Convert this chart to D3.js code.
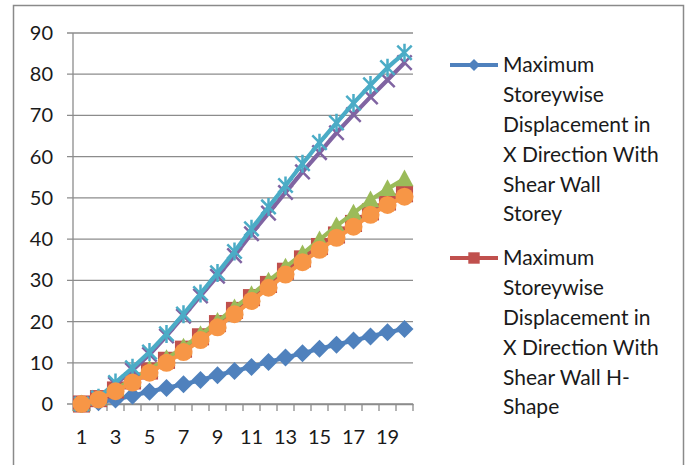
<!DOCTYPE html>
<html>
<head>
<meta charset="utf-8">
<script src="https://cdn.jsdelivr.net/npm/d3@7/dist/d3.min.js"></script>
<style>
  html, body { margin: 0; padding: 0; background: #fff; }
  svg { display: block; }
  text { font-family: Lato, "Open Sans", sans-serif; fill: #1a1a1a; }
</style>
</head>
<body>
<svg id="chart" width="688" height="465"></svg>
<script>
// Storey numbers
const storeys = d3.range(1, 21);
const yTicks = [0, 10, 20, 30, 40, 50, 60, 70, 80, 90];

// Displacement values per storey (mm)
const dispBox      = [0, 0.4, 1.1, 2.0, 3.0, 3.9, 4.8, 5.8, 7.0, 8.0, 9.0, 10.2, 11.3, 12.3, 13.4, 14.4, 15.4, 16.4, 17.4, 18.2];
const dispHShape   = [0, 1.3, 3.4, 5.6, 8.0, 10.6, 13.3, 16.3, 19.5, 22.7, 25.8, 29.0, 32.2, 35.2, 38.2, 41.0, 43.8, 46.6, 49.0, 51.0];
const dispSeries3  = [0, 1.4, 3.6, 5.9, 8.4, 11.0, 13.8, 16.8, 20.0, 23.3, 26.5, 29.8, 33.2, 36.4, 39.8, 43.2, 46.3, 49.5, 52.2, 54.6];
const dispSeries4  = [0, 1.4, 4.8, 8.2, 12.0, 16.5, 21.3, 26.2, 31.0, 36.0, 41.3, 46.3, 51.3, 56.3, 61.0, 65.8, 70.2, 74.5, 78.6, 82.8];
const dispSeries5  = [0, 1.5, 5.2, 8.8, 12.6, 17.0, 21.8, 26.8, 31.8, 37.0, 42.5, 47.8, 53.0, 58.3, 63.4, 68.2, 73.0, 77.4, 81.6, 85.2];
const dispSeries6  = [0, 1.1, 3.1, 5.2, 7.6, 10.0, 12.6, 15.5, 18.6, 21.8, 25.0, 28.2, 31.4, 34.4, 37.4, 40.3, 43.0, 45.9, 48.3, 50.3];

const legendLabels = [
  ["Maximum", "Storeywise", "Displacement in", "X Direction With", "Shear Wall", "Storey"],
  ["Maximum", "Storeywise", "Displacement in", "X Direction With", "Shear Wall H-", "Shape"]
];

const series = [
  { values: dispBox,     color: "#4F81BD", marker: "diamond" },
  { values: dispHShape,  color: "#C0504D", marker: "square" },
  { values: dispSeries3, color: "#9BBB59", marker: "triangle" },
  { values: dispSeries4, color: "#8064A2", marker: "x" },
  { values: dispSeries5, color: "#4BACC6", marker: "star" },
  { values: dispSeries6, color: "#F79646", marker: "circle" }
];

const svg = d3.select("#chart");

// outer chart frame
svg.append("rect")
  .attr("x", 13.5).attr("y", 5.5)
  .attr("width", 670).attr("height", 480)
  .attr("fill", "#fff").attr("stroke", "#8a8a8a").attr("stroke-width", 1.5);

const plot = { left: 73, right: 413, top: 33, bottom: 404 };

const x = d3.scaleBand().domain(storeys).range([plot.left, plot.right]);
const y = d3.scaleLinear().domain([0, 90]).range([plot.bottom, plot.top]);

// horizontal gridlines with left tick stubs
svg.append("g")
  .selectAll("line")
  .data(yTicks)
  .join("line")
  .attr("x1", plot.left - 6).attr("x2", plot.right)
  .attr("y1", d => y(d)).attr("y2", d => y(d))
  .attr("stroke", "#8c8c8c").attr("stroke-width", 1.3);

// y axis line
svg.append("line")
  .attr("x1", plot.left).attr("x2", plot.left)
  .attr("y1", plot.top).attr("y2", plot.bottom)
  .attr("stroke", "#8c8c8c").attr("stroke-width", 1.3);

// y tick labels
svg.append("g")
  .selectAll("text")
  .data(yTicks)
  .join("text")
  .attr("x", 53).attr("y", d => y(d))
  .attr("dy", "0.35em")
  .attr("text-anchor", "end")
  .attr("font-size", 20)
  .text(d => d);

// x axis with tick marks between categories
const xAxis = d3.axisBottom(x)
  .tickValues(storeys.filter(d => d % 2 === 1))
  .tickSize(0)
  .tickPadding(0);
const gx = svg.append("g").attr("transform", `translate(0,${plot.bottom})`).call(xAxis);
gx.select(".domain").attr("stroke", "#8c8c8c").attr("stroke-width", 1.3);
gx.selectAll(".tick text")
  .attr("y", 33).attr("dy", "0.35em")
  .attr("font-size", 20)
  .attr("font-family", "Lato, 'Open Sans', sans-serif")
  .attr("fill", "#1a1a1a");

const boundaries = storeys.map(d => x(d)).concat([x(20) + x.bandwidth()]);
svg.append("g")
  .selectAll("line")
  .data(boundaries)
  .join("line")
  .attr("x1", d => d).attr("x2", d => d)
  .attr("y1", plot.bottom).attr("y2", plot.bottom + 7)
  .attr("stroke", "#8c8c8c").attr("stroke-width", 1.3);

// marker drawing
function drawMarker(g, type, color, cx, cy, s) {
  switch (type) {
    case "diamond":
      g.append("path")
        .attr("d", `M${cx},${cy - s}L${cx + s},${cy}L${cx},${cy + s}L${cx - s},${cy}Z`)
        .attr("fill", color);
      break;
    case "square":
      g.append("rect")
        .attr("x", cx - s * 0.95).attr("y", cy - s * 0.95)
        .attr("width", s * 1.9).attr("height", s * 1.9)
        .attr("fill", color);
      break;
    case "triangle":
      g.append("path")
        .attr("d", `M${cx},${cy - s * 1.05}L${cx + s},${cy + s * 0.8}L${cx - s},${cy + s * 0.8}Z`)
        .attr("fill", color);
      break;
    case "circle":
      g.append("circle").attr("cx", cx).attr("cy", cy).attr("r", s)
        .attr("fill", color);
      break;
    case "x":
      g.append("path")
        .attr("d", `M${cx - s * 0.8},${cy - s * 0.8}L${cx + s * 0.8},${cy + s * 0.8}M${cx + s * 0.8},${cy - s * 0.8}L${cx - s * 0.8},${cy + s * 0.8}`)
        .attr("stroke", color).attr("stroke-width", 2.5).attr("fill", "none");
      break;
    case "star":
      g.append("path")
        .attr("d", `M${cx - s * 0.8},${cy - s * 0.8}L${cx + s * 0.8},${cy + s * 0.8}M${cx + s * 0.8},${cy - s * 0.8}L${cx - s * 0.8},${cy + s * 0.8}M${cx},${cy - s}L${cx},${cy + s}`)
        .attr("stroke", color).attr("stroke-width", 2.5).attr("fill", "none");
      break;
  }
}

const line = d3.line()
  .x((d, i) => x(storeys[i]) + x.bandwidth() / 2)
  .y(d => y(d));

const seriesLayer = svg.append("g");
series.forEach(s => {
  const g = seriesLayer.append("g");
  g.append("path")
    .attr("d", line(s.values))
    .attr("fill", "none")
    .attr("stroke", s.color)
    .attr("stroke-width", 4.2)
    .attr("stroke-linejoin", "round");
  s.values.forEach((v, i) => {
    drawMarker(g, s.marker, s.color, x(storeys[i]) + x.bandwidth() / 2, y(v), 9);
  });
});

// legend (first two entries visible in the frame)
const legendTops = [65, 258];
const lineH = 29.8;
legendLabels.forEach((lines, k) => {
  const s = series[k];
  const g = svg.append("g");
  const ly = legendTops[k];
  g.append("line")
    .attr("x1", 450).attr("x2", 498)
    .attr("y1", ly).attr("y2", ly)
    .attr("stroke", s.color).attr("stroke-width", 4);
  drawMarker(g, s.marker, s.color, 474, ly, 6);
  g.selectAll("text")
    .data(lines)
    .join("text")
    .attr("x", 503)
    .attr("y", (d, i) => ly + i * lineH)
    .attr("dy", "0.35em")
    .attr("font-size", 21)
    .text(d => d);
});
</script>
</body>
</html>
